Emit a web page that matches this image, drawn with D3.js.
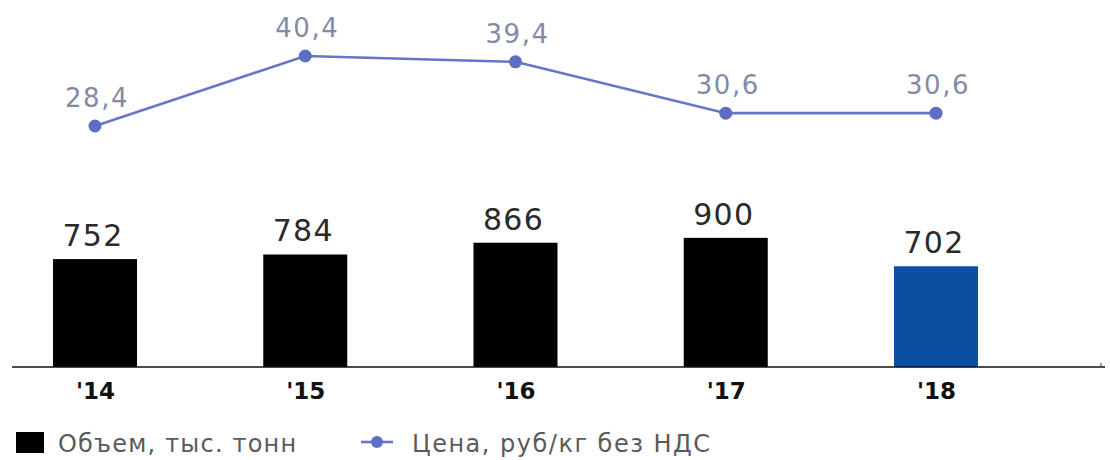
<!DOCTYPE html>
<html>
<head>
<meta charset="utf-8">
<script src="https://cdn.jsdelivr.net/npm/d3@7/dist/d3.min.js"></script>
<style>
  html, body { margin: 0; padding: 0; background: #fff; }
  svg { display: block; }
</style>
</head>
<body>
<svg id="chart" width="1110" height="460"></svg>
<script>
// Years, volume (thousand tonnes) and price (rub/kg excl. VAT)
const years = ["'14", "'15", "'16", "'17", "'18"];
const volume = [752, 784, 866, 900, 702];
const price = [28.4, 40.4, 39.4, 30.6, 30.6];
const priceLabels = ["28,4", "40,4", "39,4", "30,6", "30,6"];
const legendLabels = ["Объем, тыс. тонн", "Цена, руб/кг без НДС"];

const svg = d3.select("#chart");
const FONT = "'DejaVu Sans', sans-serif";

const baseY = 367;
const x = d3.scalePoint().domain(years).range([95, 936]);
const yBar = d3.scaleLinear().domain([0, 1000]).range([baseY, baseY - 143.5]);
const yLine = d3.scaleLinear().domain([28.4, 40.4]).range([126, 56]);
const barW = 84;

// Bars
svg.append("g").selectAll("rect")
  .data(volume)
  .join("rect")
  .attr("x", (d, i) => x(years[i]) - barW / 2)
  .attr("y", d => yBar(d))
  .attr("width", barW)
  .attr("height", d => baseY - yBar(d))
  .attr("fill", (d, i) => i === volume.length - 1 ? "#0b4ea2" : "#000");

// Bar value labels
svg.append("g").selectAll("text")
  .data(volume)
  .join("text")
  .attr("x", (d, i) => x(years[i]) - 2)
  .attr("y", d => yBar(d) - 13)
  .attr("text-anchor", "middle")
  .attr("font-family", FONT)
  .attr("font-size", 30)
  .attr("letter-spacing", 1.2)
  .attr("fill", "#2a2a2a")
  .text(d => d);

// Baseline axis
const axis = d3.axisBottom(x).tickSize(0).tickPadding(16);
const axisG = svg.append("g").attr("transform", `translate(0,${baseY})`).call(axis);
axisG.select(".domain").remove();
axisG.selectAll("text")
  .attr("font-family", FONT)
  .attr("font-size", 23)
  .attr("font-weight", "bold")
  .attr("fill", "#111")
  .attr("dy", "0.71em");
svg.append("line")
  .attr("x1", 12).attr("x2", 1105)
  .attr("y1", baseY).attr("y2", baseY)
  .attr("stroke", "#111").attr("stroke-width", 1.6);
svg.append("line")
  .attr("x1", 1101).attr("x2", 1101)
  .attr("y1", baseY - 4).attr("y2", baseY)
  .attr("stroke", "#555").attr("stroke-width", 1.2);

// Price line
const line = d3.line()
  .x((d, i) => x(years[i]))
  .y(d => yLine(d));
svg.append("path")
  .datum(price)
  .attr("d", line)
  .attr("fill", "none")
  .attr("stroke", "#6676c4")
  .attr("stroke-width", 2.6);

svg.append("g").selectAll("circle")
  .data(price)
  .join("circle")
  .attr("cx", (d, i) => x(years[i]))
  .attr("cy", d => yLine(d))
  .attr("r", 6.5)
  .attr("fill", "#5d6fc2");

svg.append("g").selectAll("text")
  .data(price)
  .join("text")
  .attr("x", (d, i) => x(years[i]) + 2)
  .attr("y", d => yLine(d) - 19)
  .attr("text-anchor", "middle")
  .attr("font-family", FONT)
  .attr("font-size", 26)
  .attr("letter-spacing", 1.5)
  .attr("fill", "#838aa6")
  .text((d, i) => priceLabels[i]);

// Legend
const lg = svg.append("g");
lg.append("rect")
  .attr("x", 16).attr("y", 432).attr("width", 28).attr("height", 21)
  .attr("fill", "#000");
lg.append("text")
  .attr("x", 58).attr("y", 452)
  .attr("font-family", FONT).attr("font-size", 24)
  .attr("letter-spacing", 1.2)
  .attr("fill", "#5a5a5a")
  .text(legendLabels[0]);
lg.append("line")
  .attr("x1", 361).attr("x2", 393).attr("y1", 442).attr("y2", 442)
  .attr("stroke", "#6676c4").attr("stroke-width", 2.6);
lg.append("circle")
  .attr("cx", 377).attr("cy", 442).attr("r", 6)
  .attr("fill", "#5d6fc2");
lg.append("text")
  .attr("x", 412).attr("y", 452)
  .attr("font-family", FONT).attr("font-size", 24)
  .attr("letter-spacing", 1.5)
  .attr("fill", "#5a5a5a")
  .text(legendLabels[1]);
</script>
</body>
</html>
